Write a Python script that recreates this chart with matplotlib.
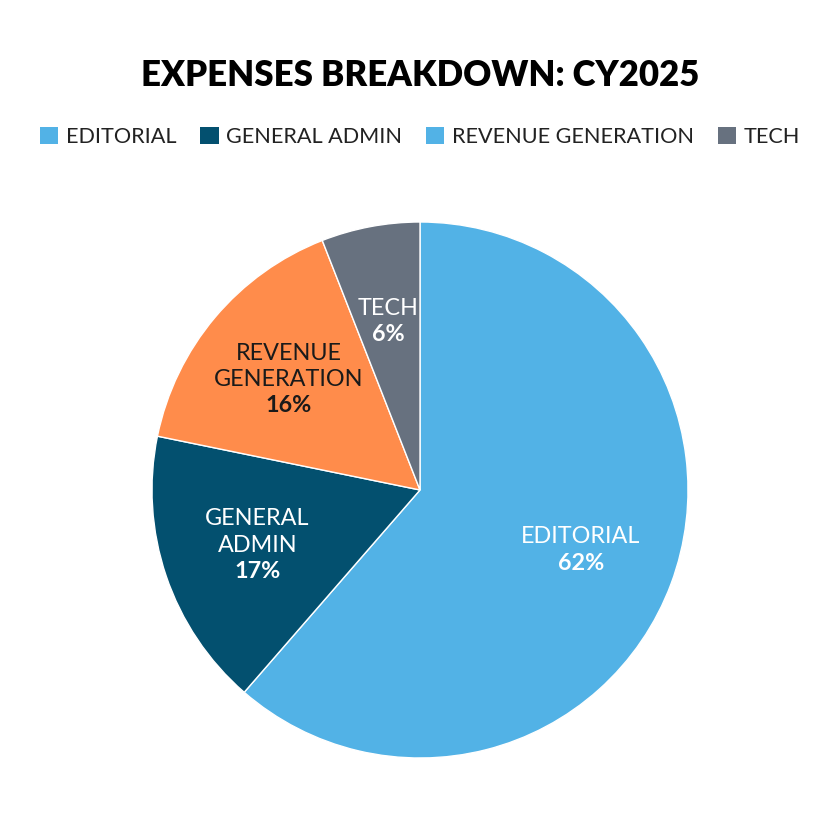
import matplotlib
matplotlib.use("Agg")
import matplotlib.pyplot as plt
from matplotlib.patches import Patch
import numpy as np

categories = ["EDITORIAL", "GENERAL ADMIN", "REVENUE GENERATION", "TECH"]
slice_labels = ["EDITORIAL", "GENERAL\nADMIN", "REVENUE\nGENERATION", "TECH"]
values = [62, 17, 16, 6]
slice_colors = ["#52B2E6", "#03506F", "#FF8C4B", "#67717F"]
legend_colors = ["#52B2E6", "#03506F", "#52B2E6", "#67717F"]
text_colors = ["white", "white", "#1a1a1a", "white"]

FONT = "Lato"

fig = plt.figure(figsize=(8.4, 8.4), dpi=100)
ax = fig.add_axes([420/840 - 268/840, 1 - (490 + 268)/840, 536/840, 536/840])

wedges, _ = ax.pie(values, colors=slice_colors, startangle=90, counterclock=False,
                   wedgeprops=dict(edgecolor="white", linewidth=1.0))
ax.set_aspect("equal")
ax.set_xlim(-1, 1)
ax.set_ylim(-1, 1)

for w, lab, v, tc in zip(wedges, slice_labels, values, text_colors):
    ang = np.deg2rad((w.theta1 + w.theta2) / 2)
    r = 0.64
    x, y = r * np.cos(ang), r * np.sin(ang)
    lines = lab.split("\n")
    nlines = len(lines) + 1
    line_h = 0.098
    top = y + nlines * line_h / 2
    for i, ln in enumerate(lines):
        ax.text(x, top - i * line_h - line_h / 2, ln, ha="center", va="center",
                color=tc, fontsize=16.8, fontfamily=FONT, fontweight="normal")
    ax.text(x, top - len(lines) * line_h - line_h / 2, f"{round(v)}%",
            ha="center", va="center",
            color=tc, fontsize=16.8, fontfamily=FONT, fontweight="bold")

fig.text(0.5, 1 - 76/840, "EXPENSES BREAKDOWN: CY2025", ha="center", va="center",
         fontsize=25, fontweight="heavy", fontfamily=FONT, color="black")

handles = [Patch(facecolor=c, edgecolor="none") for c in legend_colors]
fig.legend(handles, categories, loc="center", bbox_to_anchor=(0.5, 1 - 137/840),
           ncol=4, frameon=False, handlelength=0.85, handleheight=0.85,
           handletextpad=0.35, columnspacing=1.1,
           prop=dict(family=FONT, size=15.6, weight="normal"), labelcolor="#222222")

fig.savefig("out.png", dpi=100, facecolor="white")
